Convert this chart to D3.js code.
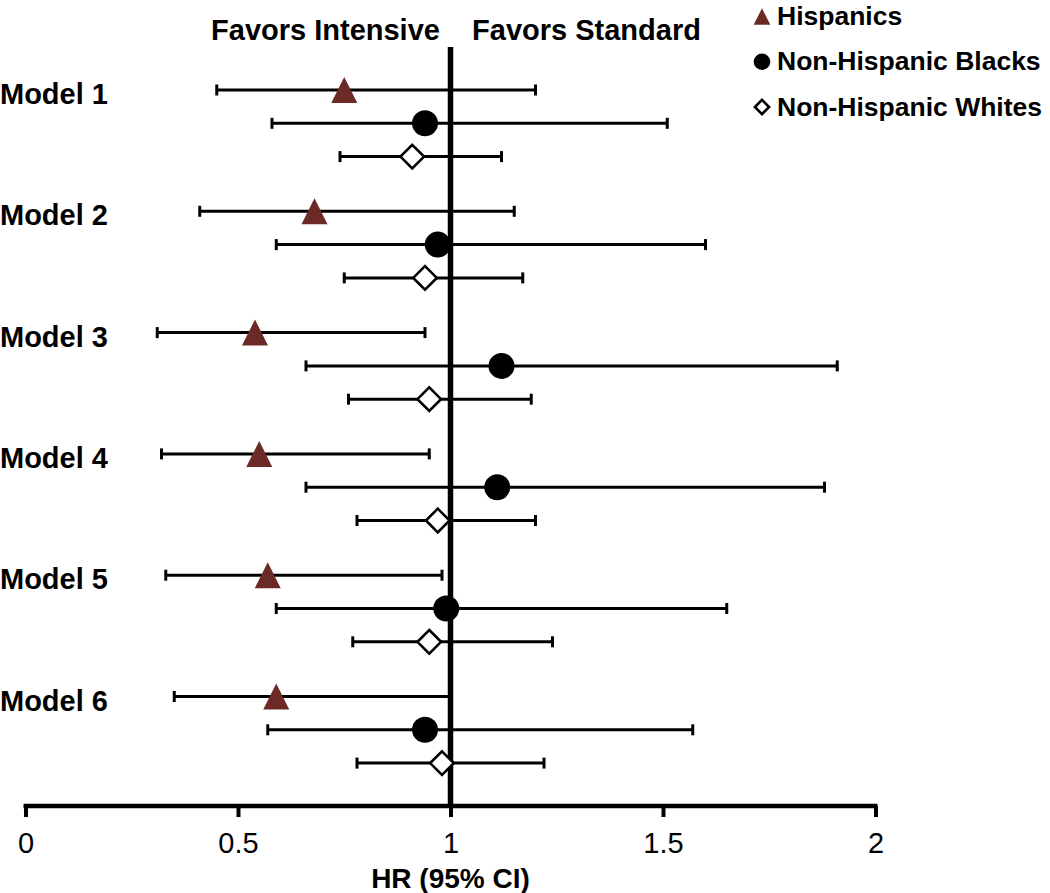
<!DOCTYPE html>
<html>
<head>
<meta charset="utf-8">
<script src="https://cdn.jsdelivr.net/npm/d3@7"></script>
<style>
  html, body { margin: 0; padding: 0; background: #fff; }
  svg { display: block; font-family: "Liberation Sans", Arial, sans-serif; }
</style>
</head>
<body>
<svg id="chart" width="1050" height="893"></svg>
<script>
// ---- Data ----
const models = ["Model 1", "Model 2", "Model 3", "Model 4", "Model 5", "Model 6"];
const series = ["Hispanics", "Non-Hispanic Blacks", "Non-Hispanic Whites"];
// Hazard ratios (point estimate), lower and upper 95% CI, per model
const hispHR    = [0.75, 0.68, 0.54, 0.55, 0.57, 0.59];
const hispLo    = [0.45, 0.41, 0.31, 0.32, 0.33, 0.35];
const hispHi    = [1.20, 1.15, 0.94, 0.95, 0.98, 1.00];
const blackHR   = [0.94, 0.97, 1.12, 1.11, 0.99, 0.94];
const blackLo   = [0.58, 0.59, 0.66, 0.66, 0.59, 0.57];
const blackHi   = [1.51, 1.60, 1.91, 1.88, 1.65, 1.57];
const whiteHR   = [0.91, 0.94, 0.95, 0.97, 0.95, 0.98];
const whiteLo   = [0.74, 0.75, 0.76, 0.78, 0.77, 0.78];
const whiteHi   = [1.12, 1.17, 1.19, 1.20, 1.24, 1.22];
const xTicks    = [0, 0.5, 1, 1.5, 2];
const xTickLabels = ["0", "0.5", "1", "1.5", "2"];
const headerLeft = "Favors Intensive";
const headerRight = "Favors Standard";
const xTitle = "HR (95% CI)";

const seriesData = [
  { name: series[0], hr: hispHR, lo: hispLo, hi: hispHi, shape: "triangle" },
  { name: series[1], hr: blackHR, lo: blackLo, hi: blackHi, shape: "circle" },
  { name: series[2], hr: whiteHR, lo: whiteLo, hi: whiteHi, shape: "diamond" }
];

const rows = [];
models.forEach((m, i) => {
  seriesData.forEach(s => {
    rows.push({ model: m, series: s.name, shape: s.shape, hr: s.hr[i], lo: s.lo[i], hi: s.hi[i] });
  });
});

// ---- Layout ----
const svg = d3.select("#chart");
const x = d3.scaleLinear().domain([0, 2]).range([25.5, 875.5]);
const yModel = d3.scaleBand().domain(models).range([79, 79 + 121.3 * 6]).paddingInner(0).paddingOuter(0);
const ySeries = d3.scalePoint().domain(series).range([0, 66.6]);
const bandStart = m => yModel(m) + 11;
const yRow = d => bandStart(d.model) + ySeries(d.series);

const axisY = 806;
const black = "#000";
const hispColor = "#6b2a26";

// Reference line at HR = 1
svg.append("line")
  .attr("x1", x(1)).attr("x2", x(1))
  .attr("y1", 47).attr("y2", axisY)
  .attr("stroke", black).attr("stroke-width", 5.5);

// X axis
const xAxis = d3.axisBottom(x).tickValues(xTicks)
  .tickFormat((d, i) => xTickLabels[i]).tickSize(11).tickSizeOuter(0).tickPadding(15);
const gx = svg.append("g").attr("transform", `translate(0,${axisY})`).call(xAxis);
gx.select(".domain").attr("stroke", black).attr("stroke-width", 4.5)
  .attr("d", `M${x(0) - 2},0H${x(2) + 2}`);
gx.selectAll(".tick line").attr("stroke", black).attr("stroke-width", 4);
gx.selectAll(".tick text").attr("fill", black).attr("font-size", 29)
  .attr("font-family", "'Liberation Sans', Arial, sans-serif");

// Axis title
svg.append("text").attr("x", x(1)).attr("y", 888).attr("text-anchor", "middle")
  .attr("font-size", 28).attr("font-weight", "bold").text(xTitle);

// Headers
svg.append("text").attr("x", 325.5).attr("y", 40).attr("text-anchor", "middle")
  .attr("font-size", 29).attr("font-weight", "bold").text(headerLeft);
svg.append("text").attr("x", 586.5).attr("y", 40).attr("text-anchor", "middle")
  .attr("font-size", 29).attr("font-weight", "bold").text(headerRight);

// Model labels
svg.selectAll("text.model").data(models).enter().append("text")
  .attr("class", "model").attr("x", 0).attr("y", m => bandStart(m) + 14)
  .attr("font-size", 29).attr("font-weight", "bold").text(m => m);

// Error bars
const capH = 11;
const eb = svg.append("g").selectAll("g").data(rows).enter().append("g");
eb.append("line").attr("x1", d => x(d.lo)).attr("x2", d => x(d.hi))
  .attr("y1", yRow).attr("y2", yRow).attr("stroke", black).attr("stroke-width", 3);
eb.append("line").attr("x1", d => x(d.lo)).attr("x2", d => x(d.lo))
  .attr("y1", d => yRow(d) - capH / 2).attr("y2", d => yRow(d) + capH / 2)
  .attr("stroke", black).attr("stroke-width", 3);
eb.append("line").attr("x1", d => x(d.hi)).attr("x2", d => x(d.hi))
  .attr("y1", d => yRow(d) - capH / 2).attr("y2", d => yRow(d) + capH / 2)
  .attr("stroke", black).attr("stroke-width", 3);

// Marker drawing
function drawMarker(sel, shape, cx, cy, s) {
  if (shape === "triangle") {
    sel.append("path")
      .attr("d", `M${cx},${cy - s}L${cx + s},${cy + s}L${cx - s},${cy + s}Z`)
      .attr("fill", hispColor);
  } else if (shape === "circle") {
    sel.append("circle").attr("cx", cx).attr("cy", cy).attr("r", s).attr("fill", black);
  } else {
    const h = s - 1.2;
    sel.append("path")
      .attr("d", `M${cx},${cy - h}L${cx + h},${cy}L${cx},${cy + h}L${cx - h},${cy}Z`)
      .attr("fill", "#fff").attr("stroke", black).attr("stroke-width", 2.6);
  }
}

eb.each(function (d) {
  drawMarker(d3.select(this), d.shape, x(d.hr), yRow(d), 13);
});

// Legend
const legend = svg.append("g");
const legY = d3.scalePoint().domain(series).range([16.5, 107]);
seriesData.forEach(s => {
  const g = legend.append("g");
  drawMarker(g, s.shape, 762, legY(s.name), 8.3);
  g.append("text").attr("x", 777).attr("y", legY(s.name) + 8.5)
    .attr("font-size", 26.5).attr("font-weight", "bold").text(s.name);
});
</script>
</body>
</html>
